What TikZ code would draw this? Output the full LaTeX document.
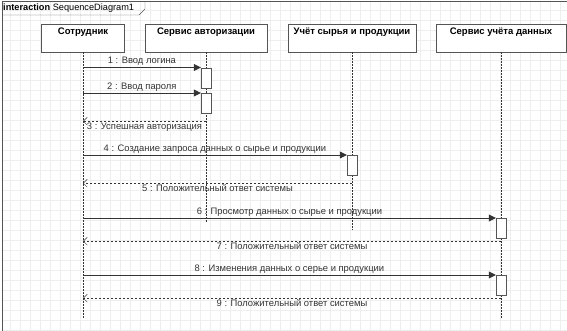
\documentclass[tikz,border=0pt]{standalone}
\usepackage{fontspec}
\setmainfont{Liberation Sans}
\usetikzlibrary{arrows.meta,positioning,calc}
\definecolor{linegray}{HTML}{333333}
\definecolor{boxgray}{HTML}{555555}
\definecolor{gridgray}{HTML}{EEEEEE}

\begin{document}
\begin{tikzpicture}[x=1pt, y=-1pt,
  headbox/.style={draw=boxgray, fill=white, minimum height=28pt, inner sep=0pt},
  headtxt/.style={font=\fontsize{9.5}{11}\selectfont\bfseries, anchor=north, yshift=-4pt, inner sep=0pt},
  actbox/.style={draw=boxgray, fill=white, minimum width=10pt, minimum height=20pt, inner sep=0pt},
  lifeline/.style={draw=linegray, dash pattern=on 1.5pt off 1.5pt},
  call/.style={draw=linegray, -{Triangle[length=7pt,width=7pt]}},
  reply/.style={draw=linegray, dash pattern=on 2pt off 2pt, -{Straight Barb[length=4pt,width=8pt]}},
  msg/.style={font=\fontsize{9.4}{11}\selectfont, text=linegray, inner sep=1.5pt}]
  \useasboundingbox (0,0) rectangle (567,330);
  % Background grid
  \draw[gridgray, step=10pt] (2,1) grid (567,330);
  % Frame
  \draw[boxgray] (2,331) -- (2,1) -- (568,1);
  \draw[boxgray] (2,15) -- (139,15) -- (145,9) -- (145,1);
  \node[anchor=west, font=\fontsize{9.2}{11}\selectfont, inner sep=0pt] (frame) at (3,8) {\textbf{interaction} SequenceDiagram1};
  % Lifeline heads
  \foreach \n/\x/\w/\t in {emp/83/83/Сотрудник, auth/206/122/Сервис авторизации, uchet/352/128/Учёт сырья и продукции, serv/501/130/Сервис учёта данных} {
    \node[headbox, minimum width=\w pt] (\n) at (\x,38) {};
    \node[headtxt] (\n txt) at (\n.north) {\t};
  }
  % Lifelines
  \foreach \n/\e in {emp/318, auth/222, uchet/230, serv/318}
    \draw[lifeline] (\n.south) -- ++(0,\e-52);
  % Activations
  \foreach \n/\l/\y in {a1/auth/77.5, a2/auth/103, a4/uchet/165, a6/serv/228, a8/serv/285}
    \node[actbox] (\n) at ($(\l.south)+(0,\y-52)$) {};
  % Calls
  \foreach \a/\t in {a1/1 : Ввод логина, a2/2 : Ввод пароля, a4/4 : Создание запроса данных о сырье и продукции, a6/6 : Просмотр данных о сырье и продукции, a8/8 : Изменения данных о серье и продукции}
    \draw[call] (emp |- \a.north) -- node[msg, above] {\t} (\a.north west);
  % Replies
  \foreach \r/\l/\y/\t in {r3/auth/121/3 : Успешная авторизация, r5/uchet/183/5 : Положительный ответ системы, r7/serv/241/7 : Положительный ответ системы, r9/serv/298/9 : Положительный ответ системы} {
    \coordinate (\r) at ($(\l.south)+(0,\y-52)$);
    \draw[reply] (\r) -- node[msg, below] {\t} (emp |- \r);
  }
\end{tikzpicture}
\end{document}
